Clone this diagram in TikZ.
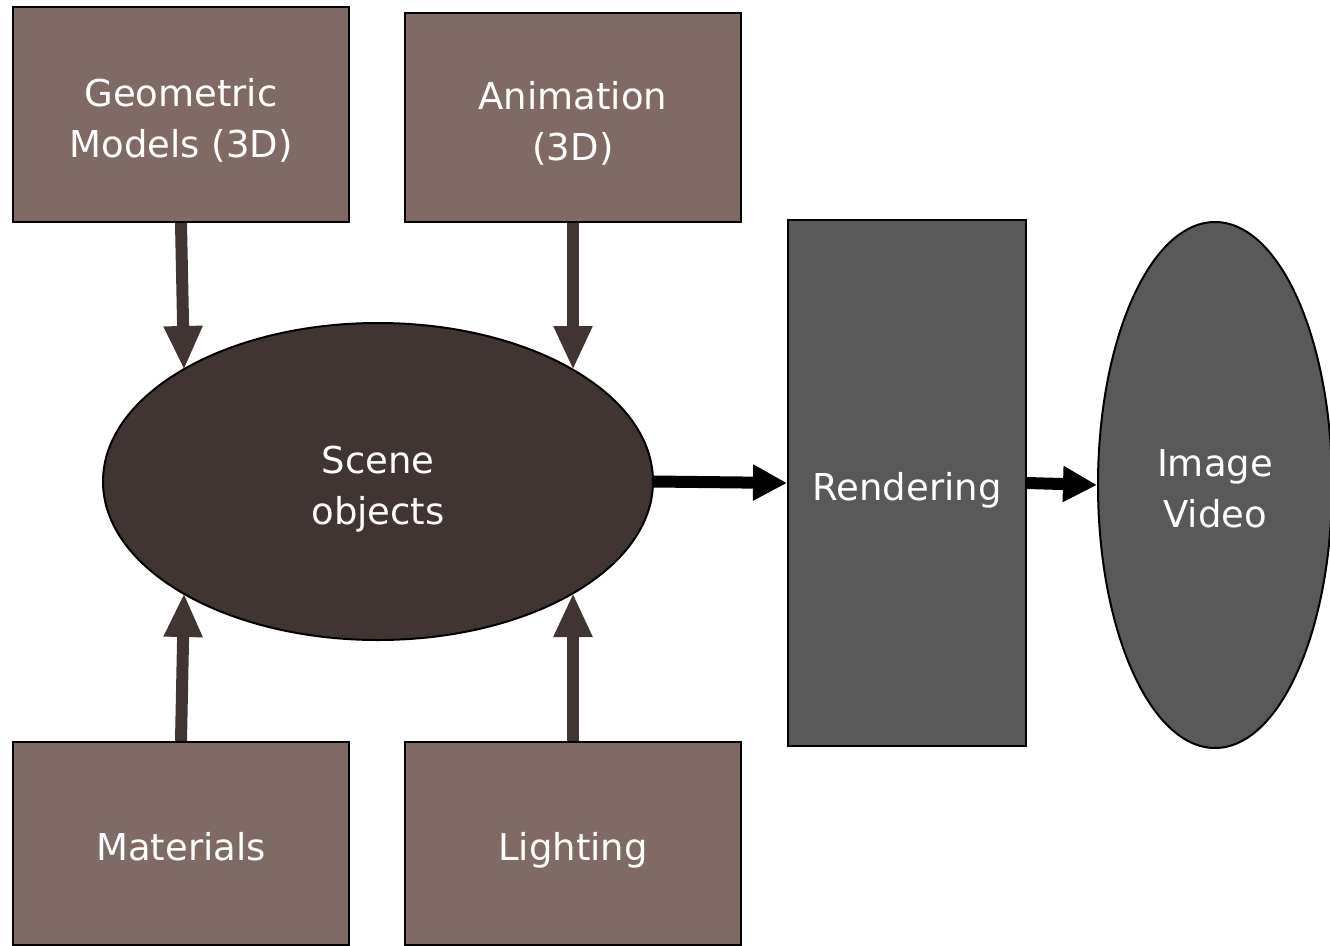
\documentclass[tikz,border=0pt]{standalone}
\usepackage{fontspec}
\setmainfont{DejaVu Sans}
\usetikzlibrary{arrows.meta,shapes.geometric}
\definecolor{boxfill}{HTML}{7F6A65}
\definecolor{scenefill}{HTML}{403533}
\definecolor{rendfill}{HTML}{595959}
\newcommand{\tl}[1]{\rule[-5.5pt]{0pt}{45.5pt}\smash{#1}}
\begin{document}
\begin{tikzpicture}[x=1pt,y=-1pt,
  every node/.style={font=\fontsize{37}{51}\selectfont, text=white, align=center, inner sep=0pt},
  srcbox/.style={draw=black, line width=2pt, fill=boxfill, minimum width=336pt},
  brownarrow/.style={draw=scenefill, line width=12pt, -{Triangle[width=36pt,length=44pt]}},
  blackarrow/.style={draw=black, line width=12pt, -{Triangle[width=34pt,length=34pt]}}]
\useasboundingbox (0,0) rectangle (1330,945);
\node[srcbox, minimum height=215pt] (geo) at (181,114.5) {\tl{Geometric}\\\tl{Models (3D)}};
\node[srcbox, minimum height=209pt] (anim) at (573,117.5) {\tl{Animation}\\\tl{(3D)}};
\node[srcbox, minimum height=203pt] (mat) at (181,843.5) {\tl{Materials}};
\node[srcbox, minimum height=203pt] (light) at (573,843.5) {\tl{Lighting}};
\node[draw=black, line width=2pt, fill=scenefill, ellipse, minimum width=550pt, minimum height=317pt] (scene) at (378,481.5) {\tl{Scene}\\\tl{objects}};
\node[draw=black, line width=2pt, fill=rendfill, minimum width=238pt, minimum height=526pt] (rend) at (907,483) {\tl{Rendering}};
\node[draw=black, line width=2pt, fill=rendfill, ellipse, minimum width=234pt, minimum height=526pt] (img) at (1215,485) {\tl{Image}\\\tl{Video}};
\coordinate (g1) at (181,223);
\coordinate (g2) at (184,370);
\coordinate (a2) at (573,370);
\coordinate (m2) at (184,593);
\coordinate (l2) at (573,593);
\draw[brownarrow] (geo.south -| g1) -- (g2);
\draw[brownarrow] (anim.south) -- (a2);
\draw[brownarrow] (mat.north) -- (m2);
\draw[brownarrow] (light.north) -- (l2);
\draw[blackarrow] (scene.east) -- (rend.west);
\draw[blackarrow] (rend.east) -- (img.west);
\end{tikzpicture}
\end{document}
